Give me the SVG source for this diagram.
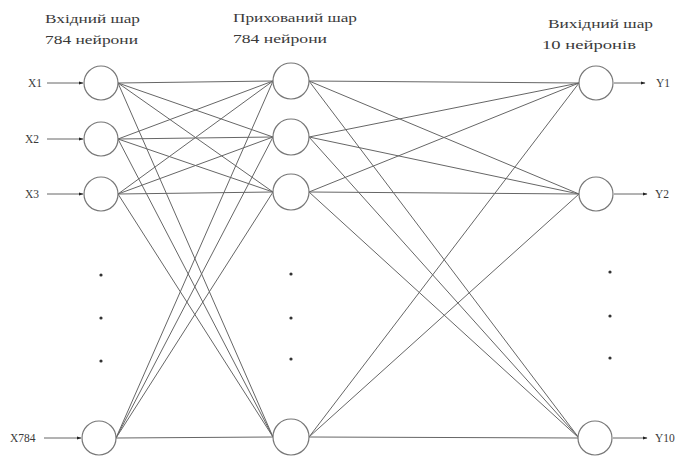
<svg xmlns="http://www.w3.org/2000/svg" width="680" height="457" viewBox="0 0 680 457">
<defs>
<marker id="ah" viewBox="0 0 10 10" refX="9" refY="5" markerWidth="5" markerHeight="5" orient="auto"><path d="M0,1.5 L10,5 L0,8.5 z" fill="#222"/></marker>
<style>
.n{fill:#fff;stroke:#777;stroke-width:1.2}
.c line{stroke:#666;stroke-width:1}
.a{stroke:#444;stroke-width:1;marker-end:url(#ah)}
.t{font-family:"Liberation Serif","DejaVu Serif",serif;font-size:13.5px;fill:#3a3a3a}
.s{font-family:"Liberation Serif","DejaVu Serif",serif;font-size:11.5px;fill:#3a3a3a}
.d{fill:#333}
</style>
</defs>
<rect width="680" height="457" fill="#fff"/>
<g id="labels">
<text class="t" x="45" y="23" textLength="95" lengthAdjust="spacingAndGlyphs">Вхідний шар</text>
<text class="t" x="45" y="44" textLength="93" lengthAdjust="spacingAndGlyphs">784 нейрони</text>
<text class="t" x="233" y="22" textLength="124" lengthAdjust="spacingAndGlyphs">Прихований шар</text>
<text class="t" x="233" y="43" textLength="94" lengthAdjust="spacingAndGlyphs">784 нейрони</text>
<text class="t" x="548" y="28" textLength="105" lengthAdjust="spacingAndGlyphs">Вихідний шар</text>
<text class="t" x="542" y="49" textLength="94" lengthAdjust="spacingAndGlyphs">10 нейронів</text>
</g>
<g class="c" id="connectors">
<line x1="118" y1="83" x2="273" y2="81"/>
<line x1="118" y1="83" x2="273" y2="137"/>
<line x1="118" y1="83" x2="273" y2="192"/>
<line x1="118" y1="83" x2="273" y2="437"/>
<line x1="118" y1="139" x2="273" y2="81"/>
<line x1="118" y1="139" x2="273" y2="137"/>
<line x1="118" y1="139" x2="273" y2="192"/>
<line x1="118" y1="139" x2="273" y2="437"/>
<line x1="118" y1="194" x2="273" y2="81"/>
<line x1="118" y1="194" x2="273" y2="137"/>
<line x1="118" y1="194" x2="273" y2="192"/>
<line x1="118" y1="194" x2="273" y2="437"/>
<line x1="116" y1="438" x2="273" y2="81"/>
<line x1="116" y1="438" x2="273" y2="137"/>
<line x1="116" y1="438" x2="273" y2="192"/>
<line x1="116" y1="438" x2="273" y2="437"/>
<line x1="309" y1="81" x2="579" y2="83"/>
<line x1="309" y1="81" x2="579" y2="194"/>
<line x1="309" y1="81" x2="579" y2="438"/>
<line x1="309" y1="137" x2="579" y2="83"/>
<line x1="309" y1="137" x2="579" y2="194"/>
<line x1="309" y1="137" x2="579" y2="438"/>
<line x1="309" y1="192" x2="579" y2="83"/>
<line x1="309" y1="192" x2="579" y2="194"/>
<line x1="309" y1="192" x2="579" y2="438"/>
<line x1="309" y1="437" x2="579" y2="83"/>
<line x1="309" y1="437" x2="579" y2="194"/>
<line x1="309" y1="437" x2="579" y2="438"/>
<line class="a" x1="47" y1="83" x2="83" y2="83"/>
<line class="a" x1="47" y1="139" x2="83" y2="139"/>
<line class="a" x1="47" y1="194" x2="83" y2="194"/>
<line class="a" x1="44" y1="438" x2="81" y2="438"/>
<line class="a" x1="614" y1="83" x2="645" y2="83"/>
<line class="a" x1="614" y1="194" x2="647" y2="194"/>
<line class="a" x1="613" y1="438" x2="647" y2="438"/>
</g>
<g id="in1"><circle class="n" cx="101" cy="83" r="17"/><text class="s" x="28" y="87">X1</text></g>
<g id="in2"><circle class="n" cx="101" cy="139" r="17"/><text class="s" x="25" y="143">X2</text></g>
<g id="in3"><circle class="n" cx="101" cy="194" r="17"/><text class="s" x="25" y="198">X3</text></g>
<g id="in784"><circle class="n" cx="99" cy="438" r="17"/><text class="s" x="10" y="442">X784</text></g>
<g id="h1"><circle class="n" cx="291" cy="81" r="18"/></g>
<g id="h2"><circle class="n" cx="291" cy="137" r="18"/></g>
<g id="h3"><circle class="n" cx="291" cy="192" r="18"/></g>
<g id="h784"><circle class="n" cx="291" cy="437" r="18"/></g>
<g id="o1"><circle class="n" cx="596" cy="83" r="17"/><text class="s" x="656" y="87">Y1</text></g>
<g id="o2"><circle class="n" cx="596" cy="194" r="17"/><text class="s" x="655" y="198">Y2</text></g>
<g id="o10"><circle class="n" cx="595" cy="438" r="17"/><text class="s" x="655" y="442">Y10</text></g>
<g id="dots">
<circle class="d" cx="101" cy="275" r="1.6"/><circle class="d" cx="101" cy="318" r="1.6"/><circle class="d" cx="101" cy="361" r="1.6"/>
<circle class="d" cx="291" cy="274" r="1.6"/><circle class="d" cx="291" cy="318" r="1.6"/><circle class="d" cx="291" cy="359" r="1.6"/>
<circle class="d" cx="610" cy="272" r="1.6"/><circle class="d" cx="610" cy="316" r="1.6"/><circle class="d" cx="610" cy="358" r="1.6"/>
</g>
</svg>
